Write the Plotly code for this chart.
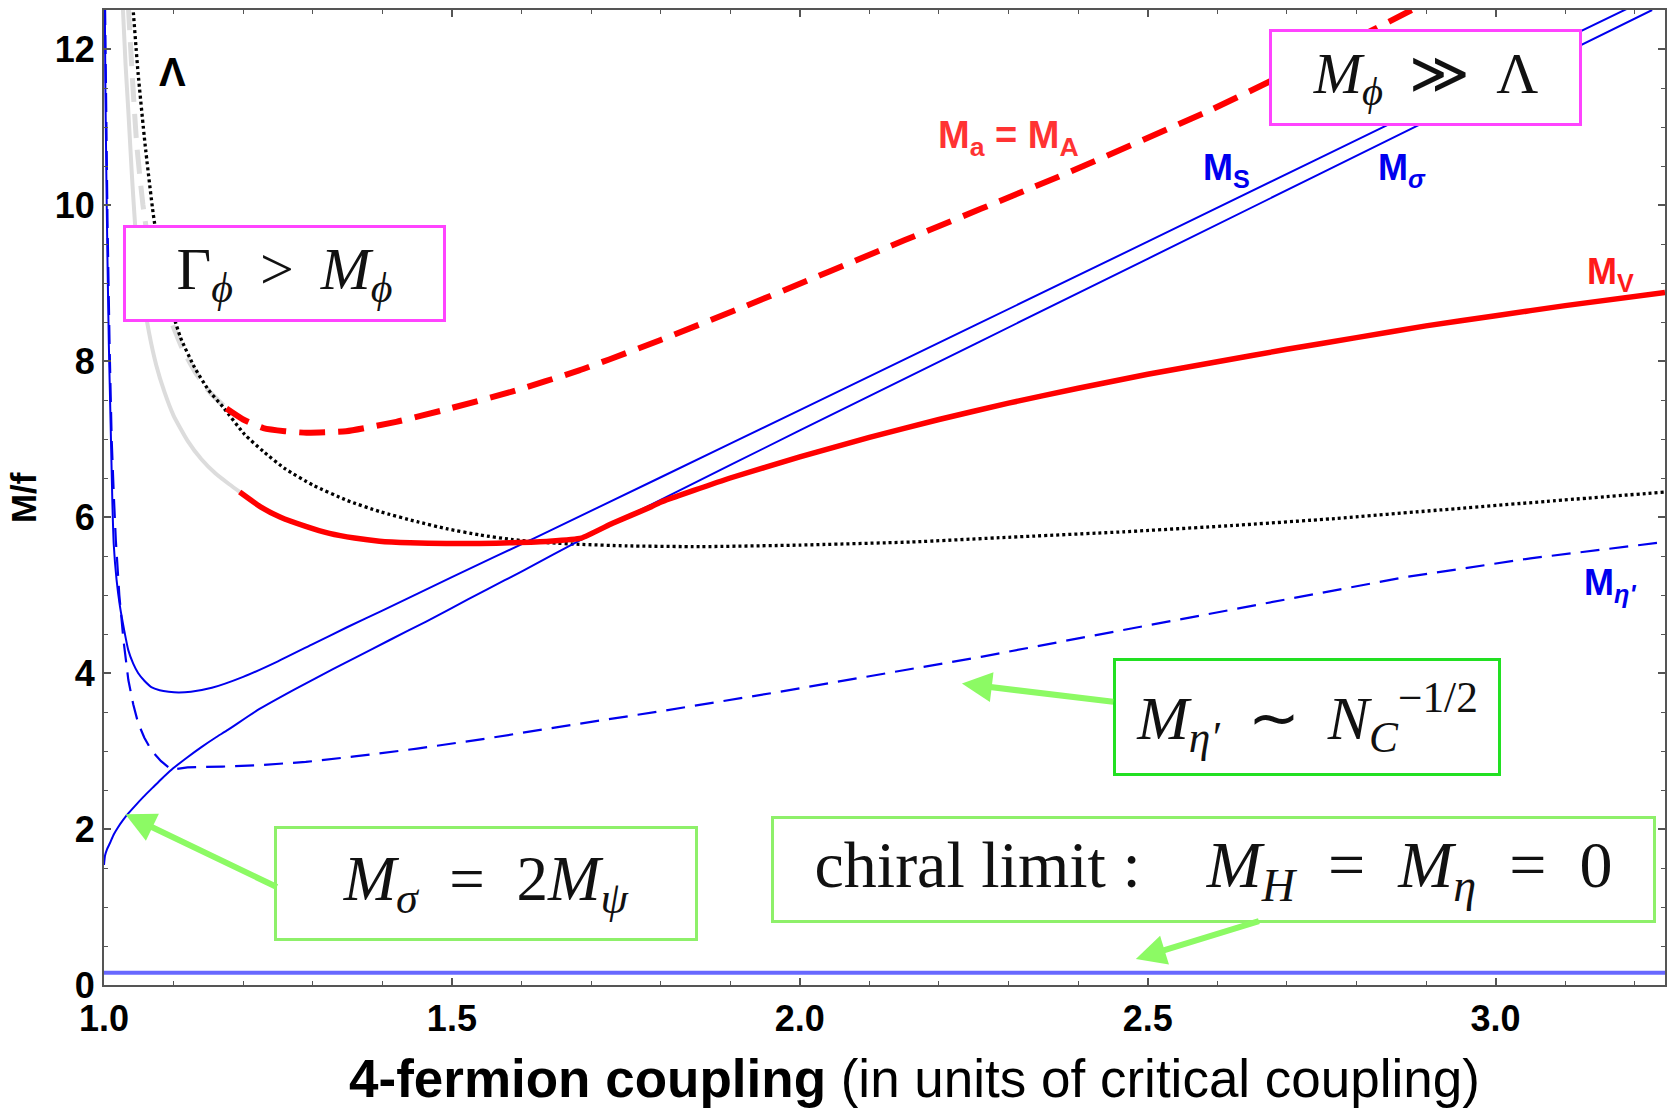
import plotly.graph_objects as go

# ---------------- data ----------------
x_range = [1.0, 3.2435]
y_range = [0.0, 12.5]

x_ticks = [1.0, 1.5, 2.0, 2.5, 3.0]
x_tick_text = ["1.0", "1.5", "2.0", "2.5", "3.0"]
y_ticks = [0, 2, 4, 6, 8, 10, 12]
y_tick_text = ["0", "2", "4", "6", "8", "10", "12"]

# M_S (upper blue solid)
ms_x = [1.0012, 1.002, 1.0035, 1.005, 1.007, 1.0095, 1.012, 1.014, 1.018, 1.023, 1.029, 1.035,
        1.042, 1.049, 1.058, 1.068, 1.08, 1.093, 1.107, 1.125, 1.155, 1.20, 1.25, 1.30,
        1.35, 1.40, 1.5, 1.621, 1.798, 2.0, 2.5, 3.0, 3.19]
ms_y = [12.55, 11.5, 10.3, 9.3, 8.2, 7.2, 6.2, 5.65, 5.2, 4.85, 4.55, 4.29,
        4.12, 4.0, 3.9, 3.82, 3.78, 3.76, 3.75, 3.76, 3.81, 3.95, 4.15, 4.37,
        4.59, 4.80, 5.23, 5.74, 6.50, 7.37, 9.53, 11.70, 12.52]

# M_sigma (lower blue solid)
msig_x = [1.0, 1.0015, 1.0043, 1.0086, 1.014, 1.02, 1.027, 1.034, 1.045, 1.057, 1.07, 1.083,
          1.097, 1.12, 1.14, 1.16, 1.178, 1.22, 1.274, 1.329, 1.36, 1.41, 1.463, 1.497, 1.55,
          1.6, 1.688, 1.8, 2.0, 2.5, 3.0, 3.225]
msig_y = [1.54, 1.66, 1.74, 1.82, 1.93, 2.02, 2.11, 2.19, 2.30, 2.415, 2.53, 2.645,
          2.76, 2.92, 3.05, 3.17, 3.27, 3.52, 3.79, 4.05, 4.19, 4.42, 4.66, 4.82, 5.07,
          5.30, 5.72, 6.22, 7.11, 9.31, 11.51, 12.5]

# M_eta' (blue dashed)
meta_x = [1.0015, 1.003, 1.005, 1.008, 1.011, 1.014, 1.017, 1.022, 1.028, 1.035, 1.042, 1.049,
          1.058, 1.068, 1.082, 1.097, 1.12, 1.17, 1.226, 1.29, 1.36, 1.45, 1.55, 1.6545, 1.8,
          1.9585, 2.11, 2.2625, 2.41, 2.567, 2.72, 2.871, 3.05, 3.2435]
meta_y = [12.55, 11.0, 9.8, 8.2, 7.0, 6.3, 5.7, 5.0, 4.42, 3.91, 3.6, 3.36,
          3.17, 3.01, 2.87, 2.76, 2.79, 2.80, 2.82, 2.86, 2.93, 3.03, 3.16, 3.31, 3.51,
          3.74, 3.97, 4.21, 4.46, 4.72, 4.98, 5.23, 5.47, 5.68]

# Lambda (black dotted)
lam_x = [1.0415, 1.049, 1.059, 1.071, 1.0876, 1.11, 1.13, 1.15, 1.171, 1.202, 1.229, 1.26,
         1.30, 1.35, 1.396, 1.45, 1.492, 1.54, 1.5875, 1.64, 1.683, 1.75, 1.857, 2.0, 2.161,
         2.3, 2.465, 2.62, 2.769, 2.92, 3.073, 3.2435]
lam_y = [12.55, 11.69, 10.78, 9.87, 8.96, 8.30, 7.92, 7.63, 7.41, 7.06, 6.84, 6.62,
         6.41, 6.21, 6.07, 5.94, 5.85, 5.77, 5.71, 5.67, 5.65, 5.63, 5.62, 5.64, 5.68,
         5.74, 5.81, 5.89, 5.98, 6.09, 6.20, 6.32]

# M_V (red solid) and its grey continuation
mv_x = [1.195, 1.225, 1.253, 1.29, 1.324, 1.36, 1.396, 1.44, 1.492, 1.54, 1.5875, 1.64,
        1.686, 1.731, 1.786, 1.8, 1.9, 2.0, 2.1, 2.2, 2.3, 2.4, 2.5, 2.6, 2.7, 2.8, 2.9,
        3.0, 3.1, 3.2435]
mv_y = [6.32, 6.13, 6.00, 5.88, 5.79, 5.73, 5.69, 5.67, 5.66, 5.66, 5.67, 5.69,
        5.73, 5.92, 6.13, 6.19, 6.50, 6.77, 7.02, 7.25, 7.46, 7.65, 7.83, 7.99, 8.15,
        8.30, 8.45, 8.58, 8.71, 8.88]
mv_grey_x = [1.027, 1.031, 1.035, 1.04, 1.046, 1.055, 1.065, 1.075, 1.087, 1.10, 1.12, 1.14,
             1.16, 1.18, 1.197]
mv_grey_y = [12.55, 11.8, 11.2, 10.4, 9.6, 8.9, 8.35, 7.95, 7.6, 7.3, 6.98, 6.74,
             6.56, 6.42, 6.31]

# M_a = M_A (red dashed) and its grey continuation
ma_x = [1.176, 1.2, 1.229, 1.26, 1.291, 1.348, 1.42, 1.492, 1.5875, 1.683, 1.726, 1.8, 1.932,
        2.151, 2.371, 2.591, 2.679, 2.847, 2.89]
ma_y = [7.39, 7.25, 7.14, 7.10, 7.08, 7.10, 7.22, 7.38, 7.61, 7.88, 8.02, 8.27, 8.74,
        9.55, 10.36, 11.22, 11.60, 12.35, 12.55]
ma_grey_x = [1.035, 1.041, 1.047, 1.056, 1.066, 1.08, 1.097, 1.113, 1.131, 1.152, 1.176]
ma_grey_y = [12.55, 11.6, 10.78, 10.0, 9.41, 8.9, 8.50, 8.15, 7.86, 7.6, 7.39]

# chiral-limit line (M_H = M_eta = 0), drawn slightly above zero
chiral_x = [1.0, 3.2435]
chiral_y = [0.157, 0.157]

# ---------------- styling ----------------
BLUE = "#0000ee"
RED = "#ff0000"
GREY = "#dcdcdc"
MAGENTA = "#ff44ff"
LGREEN = "#8ef06a"
GREEN = "#22e022"
ARROW = "#8cfa64"
SANS = "Liberation Sans, Arial, sans-serif"
SERIF = "Liberation Serif, Times New Roman, serif"

fig = go.Figure()


def add_line(x, y, color, width, dash="solid", shape="spline", smoothing=0.5):
    fig.add_trace(go.Scatter(
        x=x, y=y, mode="lines",
        line=dict(color=color, width=width, dash=dash, shape=shape, smoothing=smoothing),
        hoverinfo="skip", showlegend=False))


add_line(mv_grey_x, mv_grey_y, GREY, 4)
add_line(ma_grey_x, ma_grey_y, GREY, 5, dash="24px,12px")
add_line(chiral_x, chiral_y, "#6868ff", 4, shape="linear")
add_line(lam_x, lam_y, "#000000", 3.3, dash="3px,3px")
add_line(meta_x, meta_y, BLUE, 2.2, dash="19px,10px", shape="linear")
add_line(ms_x, ms_y, BLUE, 2)
add_line(msig_x, msig_y, BLUE, 2)
add_line(mv_x, mv_y, RED, 5.5, smoothing=0.4)
add_line(ma_x, ma_y, RED, 6, dash="26px,13px")

ann = []

# curve labels
def label(text, x, y, color, size=36):
    ann.append(dict(text=text, x=x, y=y, xref="x", yref="y", showarrow=False,
                    font=dict(family=SANS, size=size, color=color, weight="bold")))

label("Λ", 1.098, 11.7, "#000000", 40)
label("M<sub>a</sub> = M<sub>A</sub>", 2.30, 10.86, "#ff3333", 38)
label("M<sub>S</sub>", 2.613, 10.45, "#0000ee", 36)
label("M<sub><i>σ</i></sub>", 2.865, 10.45, "#0000ee", 36)
label("M<sub>V</sub>", 3.165, 9.11, "#ff1a1a", 36)
label("M<sub><i>η'</i></sub>", 3.165, 5.13, "#0000ee", 36)

# boxed formulas
def box(text, x, y, w, h, border, size=62):
    ann.append(dict(text=text, x=x, y=y, xref="x", yref="y", showarrow=False,
                    xanchor="center", yanchor="middle", width=w, height=h,
                    bgcolor="white", bordercolor=border, borderwidth=3, borderpad=0,
                    font=dict(family=SERIF, size=size, color="#111111")))

NB = "\u00a0"
SP = NB + "\u2009"
box("Γ<sub><i>ϕ</i></sub>" + SP + "&gt;" + SP + "<i>M</i><sub><i>ϕ</i></sub>",
    1.2598, 9.128, 317, 91, MAGENTA, 60)
box("<i>M</i><sub><i>ϕ</i></sub>" + SP + "≫" + SP + "Λ",
    2.899, 11.64, 307, 91, MAGENTA, 58)
box("<i>M</i><sub><i>η′</i></sub>" + SP + "∼" + SP +
    "<i>N</i><sub><i>C</i></sub><sup>−1/2</sup>",
    2.729, 3.442, 382, 112, GREEN, 62)
box("<i>M</i><sub><i>σ</i></sub>" + NB * 2 + "=" + NB * 2 + "2<i>M</i><sub><i>ψ</i></sub>",
    1.549, 1.295, 418, 109, LGREEN, 63)
box("chiral limit :" + NB * 4 + "<i>M</i><sub><i>H</i></sub>" + NB * 2 + "=" + NB * 2 +
    "<i>M</i><sub><i>η</i></sub>" + NB * 2 + "=" + NB * 2 + "0",
    2.595, 1.487, 879, 101, LGREEN, 66)

# arrows (tip at x,y ; tail at ax,ay)
def arrow(x, y, ax, ay):
    ann.append(dict(text="", x=x, y=y, ax=ax, ay=ay, xref="x", yref="y",
                    axref="x", ayref="y", showarrow=True, arrowhead=2,
                    arrowsize=1.0, arrowwidth=6, arrowcolor=ARROW, standoff=0))

arrow(2.233, 3.864, 2.4526, 3.628)
arrow(1.0307, 2.188, 1.2505, 1.247)
arrow(2.483, 0.333, 2.662, 0.826)

# axis titles
ann.append(dict(text="<b>4-fermion coupling</b> (in units of critical coupling)",
                x=0.5195, y=-0.0955, xref="paper", yref="paper", showarrow=False,
                xanchor="center", yanchor="middle", borderpad=0,
                font=dict(family=SANS, size=53, color="#000000")))
ann.append(dict(text="<b>M/f</b>", x=-0.0515, y=0.5, xref="paper", yref="paper",
                showarrow=False, textangle=-90, xanchor="center", yanchor="middle",
                font=dict(family=SANS, size=35, color="#000000")))

axis_common = dict(showline=True, linecolor="#555555", linewidth=2, mirror="ticks",
                   ticks="inside", ticklen=7, tickwidth=1.5, tickcolor="#555555",
                   showgrid=False, zeroline=False,
                   tickfont=dict(family=SANS, size=36, color="#000000", weight="bold"))

fig.update_layout(
    width=1667, height=1108,
    margin=dict(l=104, r=0, t=10, b=123),
    paper_bgcolor="white", plot_bgcolor="white",
    showlegend=False,
    annotations=ann,
    xaxis=dict(range=x_range, tickvals=x_ticks, ticktext=x_tick_text,
               minor=dict(dtick=0.1, tick0=1.0, ticks="inside", ticklen=4,
                          tickcolor="#555555", tickwidth=1.2),
               ticklabelstandoff=1, **axis_common),
    yaxis=dict(range=y_range, tickvals=y_ticks, ticktext=y_tick_text,
               minor=dict(dtick=0.5, tick0=0, ticks="inside", ticklen=4,
                          tickcolor="#555555", tickwidth=1.2),
               **axis_common),
)

fig.write_html("out.html")
